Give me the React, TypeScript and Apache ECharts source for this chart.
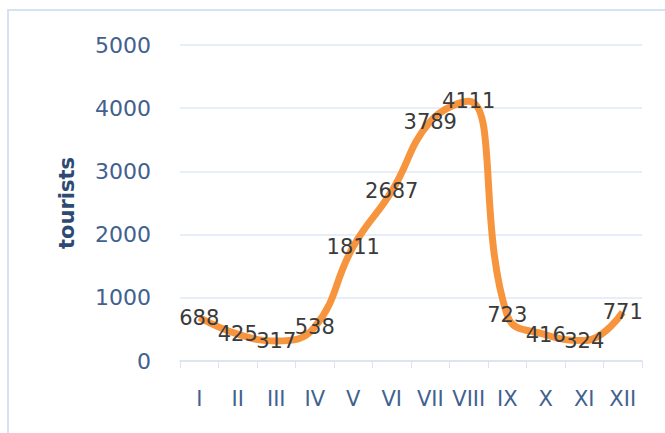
import React, { useEffect, useRef } from "react";
import * as echarts from "echarts";

const months = ["I", "II", "III", "IV", "V", "VI", "VII", "VIII", "IX", "X", "XI", "XII"];
const tourists = [688, 425, 317, 538, 1811, 2687, 3789, 4111, 723, 416, 324, 771];
const yName = "tourists";

export default function App() {
  const ref = useRef<HTMLDivElement>(null);
  useEffect(() => {
    const chart = echarts.init(ref.current!, null, { renderer: "svg" });
    const blue = "#41618f";
    const font = "DejaVu Sans";
    chart.setOption({
      animation: false,
      backgroundColor: "#ffffff",
      graphic: [
        {
          type: "rect",
          shape: { x: 8, y: 10, width: 720, height: 500 },
          style: { fill: "none", stroke: "#d5e2f2", lineWidth: 2 },
          silent: true,
        },
      ],
      grid: { left: 180, right: 23, top: 45, bottom: 72 },
      xAxis: {
        type: "category",
        data: months,
        boundaryGap: true,
        axisLine: { lineStyle: { color: "#d9e3f1", width: 1.5 } },
        axisTick: { show: true, length: 7, lineStyle: { color: "#d9e3f1" } },
        axisLabel: { color: blue, fontSize: 21, fontFamily: font, margin: 27, interval: 0 },
      },
      yAxis: {
        type: "value",
        min: 0,
        max: 5000,
        interval: 1000,
        name: yName,
        nameLocation: "middle",
        nameGap: 103,
        nameTextStyle: { color: "#2d4a73", fontSize: 21, fontWeight: "bold", fontFamily: font },
        axisLine: { show: false },
        axisTick: { show: false },
        splitLine: { lineStyle: { color: "#dfe8f4", width: 1.5 } },
        axisLabel: {
          color: blue,
          fontSize: 22,
          fontFamily: font,
          margin: 29,
          formatter: (v: number) => String(v),
        },
      },
      series: [
        {
          type: "line",
          data: tourists,
          smooth: 0.45,
          showSymbol: true,
          symbol: "circle",
          symbolSize: 0,
          lineStyle: { color: "#f7953f", width: 7 },
          itemStyle: { color: "#f7953f" },
          label: {
            show: true,
            position: "inside",
            color: "#3a3a3a",
            fontSize: 21,
            fontFamily: font,
          },
        },
      ],
    });
    return () => chart.dispose();
  }, []);
  return (
    <div
      ref={ref}
      style={{ position: "absolute", left: 0, top: 0, width: 665, height: 433 }}
    />
  );
}
